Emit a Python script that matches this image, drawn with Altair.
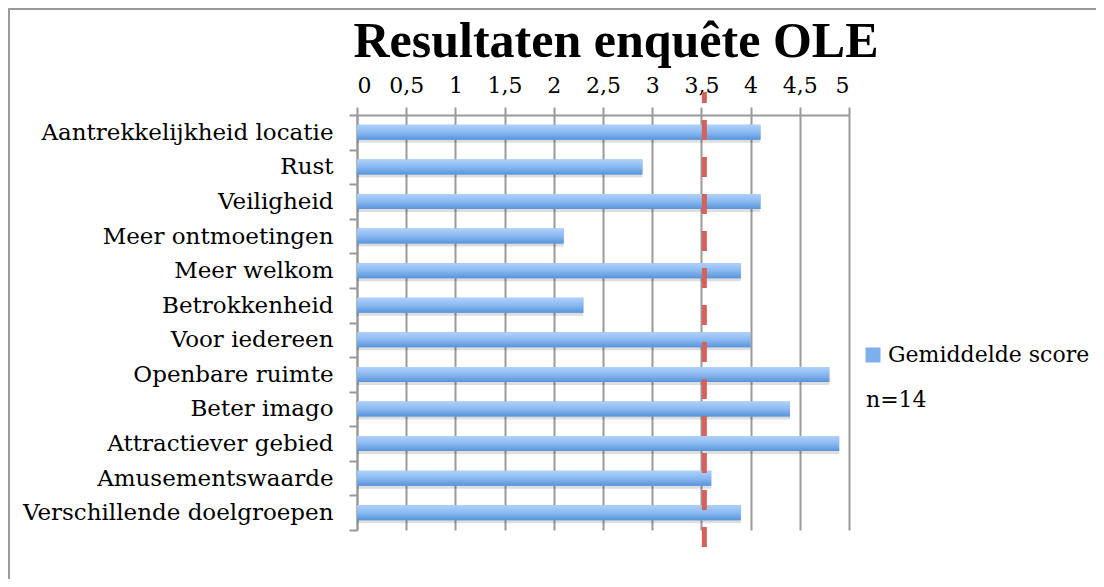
import altair as alt
import pandas as pd

categories = [
    "Aantrekkelijkheid locatie", "Rust", "Veiligheid", "Meer ontmoetingen",
    "Meer welkom", "Betrokkenheid", "Voor iedereen", "Openbare ruimte",
    "Beter imago", "Attractiever gebied", "Amusementswaarde",
    "Verschillende doelgroepen",
]
scores = [4.1, 2.9, 4.1, 2.1, 3.9, 2.3, 4.0, 4.8, 4.4, 4.9, 3.6, 3.9]
series_name = "Gemiddelde score"
reference_value = 3.53
title_text = "Resultaten enquête OLE"
note_text = "n=14"
x_ticks = [0, 0.5, 1, 1.5, 2, 2.5, 3, 3.5, 4, 4.5, 5]

FONT = "DejaVu Serif"
TFONT = "Liberation Serif"
W, H = 492, 415

df = pd.DataFrame({"cat": categories, "score": scores, "series": [series_name] * len(scores)})

xscale = alt.Scale(domain=[0, 5], nice=False)
yenc = alt.Y("cat:N", sort=None, title=None,
             scale=alt.Scale(paddingInner=0.0, paddingOuter=0.0),
             axis=alt.Axis(tickBand="extent", domainColor="#999999", domainWidth=2,
                           tickColor="#999999", tickWidth=2, tickSize=8,
                           labelPadding=16, labelFont=FONT, labelFontSize=23,
                           labelColor="#000000", grid=False, labelLimit=400))

xaxis = alt.Axis(orient="top", values=x_ticks,
                 labelExpr="replace(format(datum.value, '~g'), '.', ',')",
                 grid=True, gridColor="#9a9a9a", gridWidth=2,
                 domainColor="#999999", domainWidth=2,
                 tickColor="#999999", tickWidth=2, tickSize=8,
                 labelFont=FONT, labelFontSize=22, labelColor="#000000",
                 labelPadding=10, title=None, labelOverlap=False)

base = alt.Chart(df)

shadow = base.mark_bar(size=15, color="#000000", opacity=0.13, yOffset=3, x2Offset=3).encode(
    x=alt.X("score:Q", scale=xscale, axis=xaxis),
    y=yenc,
)

flat = base.mark_bar(size=15).encode(
    x=alt.X("score:Q", scale=xscale),
    y=alt.Y("cat:N", sort=None),
    color=alt.Color("series:N", scale=alt.Scale(range=["#7cafec"]),
                    legend=alt.Legend(title=None, orient="none", legendX=505, legendY=229,
                                      symbolType="square", symbolSize=225, symbolStrokeWidth=0,
                                      labelFont=FONT, labelFontSize=22, labelColor="#000000",
                                      labelOffset=4, padding=0, labelLimit=400)),
)

grad = base.mark_bar(size=15, color=alt.Gradient(
    gradient="linear", x1=0, x2=0, y1=0, y2=1,
    stops=[alt.GradientStop(color="#b0d1fb", offset=0),
           alt.GradientStop(color="#8ab9f1", offset=0.5),
           alt.GradientStop(color="#5894da", offset=1)])).encode(
    x=alt.X("score:Q", scale=xscale),
    y=alt.Y("cat:N", sort=None),
)

rule = alt.Chart(pd.DataFrame({"v": [reference_value]})).mark_rule(
    color="#d6605a", strokeWidth=5, strokeDash=[20, 17], strokeDashOffset=9
).encode(
    x=alt.X("v:Q", scale=xscale),
    y=alt.value(-23), y2=alt.value(H + 20),
)

one = pd.DataFrame({"t": [title_text], "n": [note_text]})

border = alt.Chart(one).mark_rect(fill=None, stroke="#9a9a9a", strokeWidth=2).encode(
    x=alt.value(-348), x2=alt.value(1200), y=alt.value(-106), y2=alt.value(900)
)

title = alt.Chart(one).mark_text(font=TFONT, fontSize=50, fontWeight="bold", color="#000000",
                                 align="center", baseline="alphabetic").encode(
    text="t:N", x=alt.value(259), y=alt.value(-58)
)

note = alt.Chart(one).mark_text(font=FONT, fontSize=22, color="#000000",
                                align="left", baseline="alphabetic").encode(
    text="n:N", x=alt.value(509), y=alt.value(292)
)

chart = alt.layer(border, shadow, flat, grad, rule, title, note).properties(
    width=W, height=H,
    autosize=alt.AutoSizeParams(type="none"),
    padding={"left": 349, "top": 107, "right": 247, "bottom": 49},
    background="#ffffff",
).configure_view(stroke=None)

chart.save("out.html", embed_options={"renderer": "svg", "actions": False})
